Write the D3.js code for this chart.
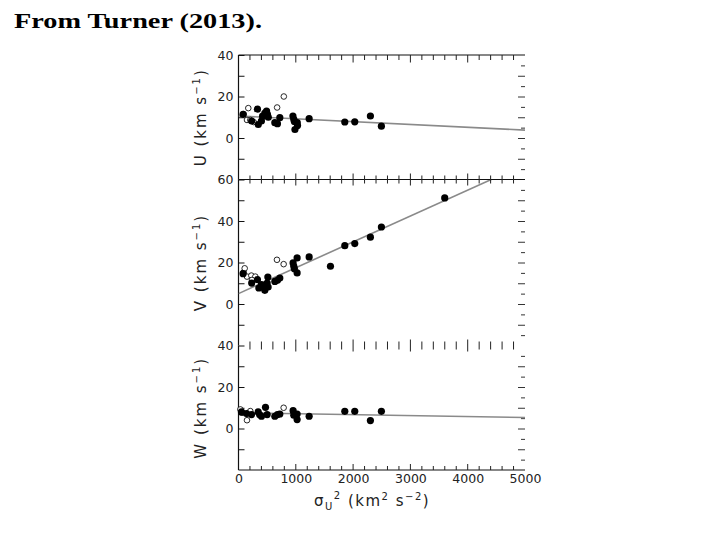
<!DOCTYPE html>
<html>
<head>
<meta charset="utf-8">
<script src="https://cdn.jsdelivr.net/npm/d3@7"></script>
<style>
  body { margin: 0; background: #fff; }
  svg { display: block; }
  .tick text { font-family: "DejaVu Sans", sans-serif; font-size: 12.5px; fill: #222; }
  .domain { display: none; }
</style>
</head>
<body>
<div id="chart"></div>
<script>
// DATA : [sigma_U^2, velocity]
const xTicks = [0, 1000, 2000, 3000, 4000, 5000];

const uFilled = [[80, 11.4], [230, 8.2], [330, 13.9], [345, 6.5], [400, 8.2], [420, 10.5], [460, 12], [490, 13],
  [505, 11.4], [520, 10], [634, 7.4], [680, 6.9], [721, 9.8], [950, 10.6], [965, 9], [975, 8], [985, 4.1],
  [1025, 7.4], [1030, 6], [1233, 9.3], [1855, 7.7], [2029, 7.8], [2302, 10.6], [2494, 5.7]];
const uOpen = [[90, 11.5], [148, 8.7], [206, 8.7], [264, 7.7], [171, 14.4], [674, 14.7], [791, 20]];

const vFilled = [[80, 14.6], [230, 10.1], [330, 11.7], [355, 7.7], [400, 9.3], [420, 8.5], [459, 6.6], [500, 10.1],
  [512, 13], [517, 8.2], [634, 10.9], [680, 11.4], [721, 12.5], [953, 19.8], [965, 18.2], [975, 17], [1023, 22.2],
  [1023, 15], [1233, 22.7], [1605, 18.2], [1855, 28.1], [2029, 29.1], [2302, 32.2], [2494, 37.1], [3599, 51.1]];
const vOpen = [[90, 15.3], [108, 17.2], [148, 13.2], [224, 13.7], [294, 13.2], [235, 11.6], [671, 21.3], [788, 19.2]];

const wFilled = [[52, 8], [140, 7.2], [227, 6.7], [343, 8], [370, 6.6], [401, 5.9], [471, 10.2], [500, 6.7],
  [634, 5.9], [680, 6.7], [721, 7], [953, 8.6], [965, 6.4], [1023, 7], [1023, 4.3], [1233, 5.9],
  [1855, 8.3], [2029, 8.3], [2302, 3.8], [2494, 8.3]];
const wOpen = [[32, 9.2], [61, 7.6], [148, 4], [206, 8.4], [788, 10]];

// fitted lines, two end points each
const uFit = [[0, 10.6], [5000, 3.8]];
const vFit = [[0, 5], [4411, 60]];
const wFit = [[0, 7.6], [5000, 5.3]];

const panels = [
  { name: "U", domain: [-20, 40], labels: [0, 20, 40], top: 55, bottom: 179.5, filled: uFilled, open: uOpen, fit: uFit },
  { name: "V", domain: [-20, 60], labels: [0, 20, 40, 60], top: 179.5, bottom: 345.5, filled: vFilled, open: vOpen, fit: vFit },
  { name: "W", domain: [-20, 40], labels: [0, 20, 40], top: 345.5, bottom: 470, filled: wFilled, open: wOpen, fit: wFit }
];

const width = 720, height = 540;
const left = 238.5, right = 525;

const svg = d3.select("#chart").append("svg")
  .attr("width", width)
  .attr("height", height);

// title (the scan is stretched sideways)
svg.append("text")
  .attr("x", 14).attr("y", 28)
  .attr("font-family", "'Liberation Serif', 'Times New Roman', serif")
  .attr("font-weight", "bold")
  .attr("font-size", 21)
  .attr("textLength", 248)
  .attr("lengthAdjust", "spacingAndGlyphs")
  .text("From Turner (2013).");

const xScale = d3.scaleLinear().domain([0, 5000]).range([left, right]);
const xMinor = d3.range(0, 5001, 200);

panels.forEach((p, i) => {
  const y = d3.scaleLinear().domain(p.domain).range([p.bottom, p.top]);
  const g = svg.append("g");

  // clip
  const clipId = "clip" + i;
  svg.append("clipPath").attr("id", clipId)
    .append("rect").attr("x", left).attr("y", p.top).attr("width", right - left).attr("height", p.bottom - p.top);

  // left axis, ticks inward
  const yTickVals = d3.range(p.domain[0] + 10, p.domain[1] + 1, 10);
  g.append("g")
    .attr("transform", `translate(${left},0)`)
    .call(d3.axisLeft(y).tickValues(yTickVals).tickSizeInner(-6).tickSizeOuter(0).tickPadding(5)
      .tickFormat(d => p.labels.includes(d) ? d : ""))
    .call(a => a.selectAll("line").attr("stroke", "#111"));
  g.append("line")
    .attr("x1", left).attr("x2", left).attr("y1", p.top).attr("y2", p.bottom)
    .attr("stroke", "#111").attr("stroke-width", 1.2);

  // right axis, ticks only
  const rightTicks = d3.range(p.domain[0] + 5, p.domain[1], 5);
  g.append("g")
    .attr("transform", `translate(${right},0)`)
    .call(d3.axisRight(y).tickValues(rightTicks).tickSizeOuter(0)
      .tickSizeInner(0).tickFormat(""))
    .selectAll(".tick line")
    .attr("x2", d => d % 10 === 0 ? -7 : -4)
    .attr("stroke", "#333");

  // fit line
  g.append("path")
    .datum(p.fit)
    .attr("clip-path", `url(#${clipId})`)
    .attr("fill", "none")
    .attr("stroke", "#8a8a8a")
    .attr("stroke-width", 1.6)
    .attr("d", d3.line().x(d => xScale(d[0])).y(d => y(d[1])));

  // open circles
  g.selectAll(".open")
    .data(p.open)
    .join("circle")
    .attr("class", "open")
    .attr("cx", d => xScale(d[0]))
    .attr("cy", d => y(d[1]))
    .attr("r", 2.8)
    .attr("fill", "#fff")
    .attr("stroke", "#111")
    .attr("stroke-width", 0.9);

  // filled circles
  g.selectAll(".dot")
    .data(p.filled)
    .join("circle")
    .attr("class", "dot")
    .attr("cx", d => xScale(d[0]))
    .attr("cy", d => y(d[1]))
    .attr("r", 3.6)
    .attr("fill", "#000");

  // y label
  const lab = g.append("text")
    .attr("transform", `translate(206,${(p.top + p.bottom) / 2}) rotate(-90)`)
    .attr("text-anchor", "middle")
    .attr("font-family", "'DejaVu Sans', sans-serif")
    .attr("font-size", 15)
    .attr("letter-spacing", 2)
    .attr("fill", "#222");
  lab.append("tspan").text(`${p.name} (km s`);
  lab.append("tspan").attr("dy", -6).attr("font-size", 10).text("−1");
  lab.append("tspan").attr("dy", 6).text(")");
});

// horizontal frame lines with x ticks
function xTickRow(yPos, up, down, drawLine) {
  const g = svg.append("g");
  if (drawLine) {
    g.append("line").attr("x1", left).attr("x2", right).attr("y1", yPos).attr("y2", yPos)
      .attr("stroke", "#111").attr("stroke-width", 1.2);
  }
  g.selectAll("line.t")
    .data(xMinor.filter(d => d > 0 && d < 5000))
    .join("line")
    .attr("class", "t")
    .attr("x1", d => xScale(d)).attr("x2", d => xScale(d))
    .attr("y1", d => yPos - (d % 1000 === 0 ? up * 1.5 : up))
    .attr("y2", d => yPos + (d % 1000 === 0 ? down * 1.5 : down))
    .attr("stroke", "#222");
}
xTickRow(55, 0, 5, true);
xTickRow(179.5, 4, 4, true);
xTickRow(345.5, 4, 4, false);
xTickRow(470, 4, 0, true);

// x axis labels
svg.append("g")
  .attr("transform", "translate(0,470)")
  .call(d3.axisBottom(xScale).tickValues(xTicks).tickFormat(d3.format("d")).tickSize(0).tickPadding(4));

const xl = svg.append("text")
  .attr("x", 372).attr("y", 506)
  .attr("text-anchor", "middle")
  .attr("font-family", "'DejaVu Sans', sans-serif")
  .attr("font-size", 15)
  .attr("letter-spacing", 1.5)
  .attr("fill", "#222");
xl.append("tspan").text("σ");
xl.append("tspan").attr("dy", 4).attr("font-size", 10).text("U");
xl.append("tspan").attr("dy", -11).attr("font-size", 10).text("2");
xl.append("tspan").attr("dy", 7).text(" (km");
xl.append("tspan").attr("dy", -6).attr("font-size", 10).text("2");
xl.append("tspan").attr("dy", 6).text(" s");
xl.append("tspan").attr("dy", -6).attr("font-size", 10).text("−2");
xl.append("tspan").attr("dy", 6).text(")");
</script>
</body>
</html>
